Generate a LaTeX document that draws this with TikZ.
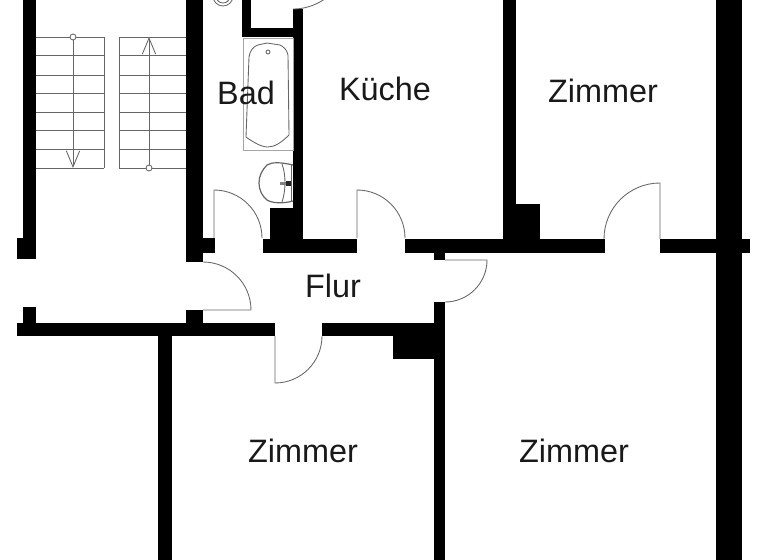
\documentclass[tikz,border=0pt]{standalone}
\usepackage{fontspec}
\setmainfont{Liberation Sans}
\usetikzlibrary{arrows.meta}
\tikzset{
    wall/.style={fill=black},
    thinline/.style={draw=black!60,line width=0.65pt},
    roomlabel/.style={font=\fontsize{24.3}{26}\selectfont,text=black!90,inner sep=0pt}
}
\begin{document}
\begin{tikzpicture}[x=0.75pt,y=-0.75pt,>={Straight Barb[length=12pt,width=10pt]}]
    \useasboundingbox (0,0) rectangle (768,560);
    \clip (0,0) rectangle (768,560);

    % walls
    \foreach \xa/\ya/\xb/\yb in {23/0/36/259, 17/238/23/259, 23/307/36/323, 17/323/275/336,
        186/0/203/262, 203/238/215/253, 186/310/203/323, 158/336/172/560,
        242/0/251/37, 242/28/303/37, 293/9/303/253, 270/208/303/253,
        263/239/357/253, 405/239/605/253, 660/239/750/253, 716/0/742/560,
        503/0/516/239, 503/204/540/239, 434/253/445/260, 434/302/445/560,
        322/323/434/336, 393/336/434/359}
        \fill[wall] (\xa,\ya) rectangle (\xb,\yb);

    % stairs
    \foreach \y in {37,55,75,93,112,130,149,168} {
        \draw[thinline] (36,\y)--(104,\y);
        \draw[thinline] (119,\y)--(186,\y);
    }
    \foreach \x in {104,119}
        \draw[thinline] (\x,37)--(\x,168);
    \draw[thinline,->] (73,37)--(73,168);
    \draw[thinline,->] (149,168)--(149,37);
    \draw[thinline,fill=white] (73,37) circle (3);
    \draw[thinline,fill=white] (149,168) circle (3);

    % doors
    \foreach \hx/\hy/\la/\ea/\r in {214/238/-90/0/48, 203/310/0/-90/48, 275/336/90/0/47,
        357/238/-90/0/48, 660/239/-90/-180/56, 445/260/0/90/42}
        \draw[thinline] (\hx,\hy)--++(\la:\r) arc[start angle=\la,end angle=\ea,radius=\r];
    \draw[thinline] (293,9) arc[start angle=90,end angle=40,radius=55];

    % toilet
    \draw[thinline] (223,-4) circle (10);
    \draw[thinline] (223,-4) circle (7);

    % bath
    \draw[thinline,draw=black!35] (243,38) rectangle (293,150);
    \draw[thinline] (249,57) -- (250,53) .. controls (252,48) and (255,46) .. (258,45)
        -- (267,43) -- (280,45) .. controls (284,47) and (287,50) .. (288,55)
        -- (289,135) .. controls (282,142) and (275,147) .. (268,147)
        .. controls (261,147) and (253,142) .. (246,137) -- cycle;
    \draw[thinline] (268,52) circle (2);

    % sink
    \draw[thinline,line width=0.9pt] (293,165) .. controls (280,162) and (272,162) .. (267,165)
        .. controls (262,170) and (259,176) .. (259,183)
        .. controls (259,190) and (262,196) .. (267,200)
        .. controls (272,203) and (282,204) .. (293,201);
    \draw[thinline] (282,164) .. controls (286,175) and (286,190) .. (282,202);
    \draw[thinline] (291,165)--(291,201);
    \fill[black!50] (280,182) rectangle (286,185);
    \fill[black!85] (286,181) rectangle (291,186);

    % labels
    \node[roomlabel] (bad) at (246,93) {Bad};
    \node[roomlabel] (kueche) at (385,89) {Küche};
    \node[roomlabel] (zimmerA) at (603,91) {Zimmer};
    \node[roomlabel] (flur) at (333,286) {Flur};
    \node[roomlabel] (zimmerB) at (303,451) {Zimmer};
    \node[roomlabel] (zimmerC) at (574,451) {Zimmer};
\end{tikzpicture}
\end{document}
